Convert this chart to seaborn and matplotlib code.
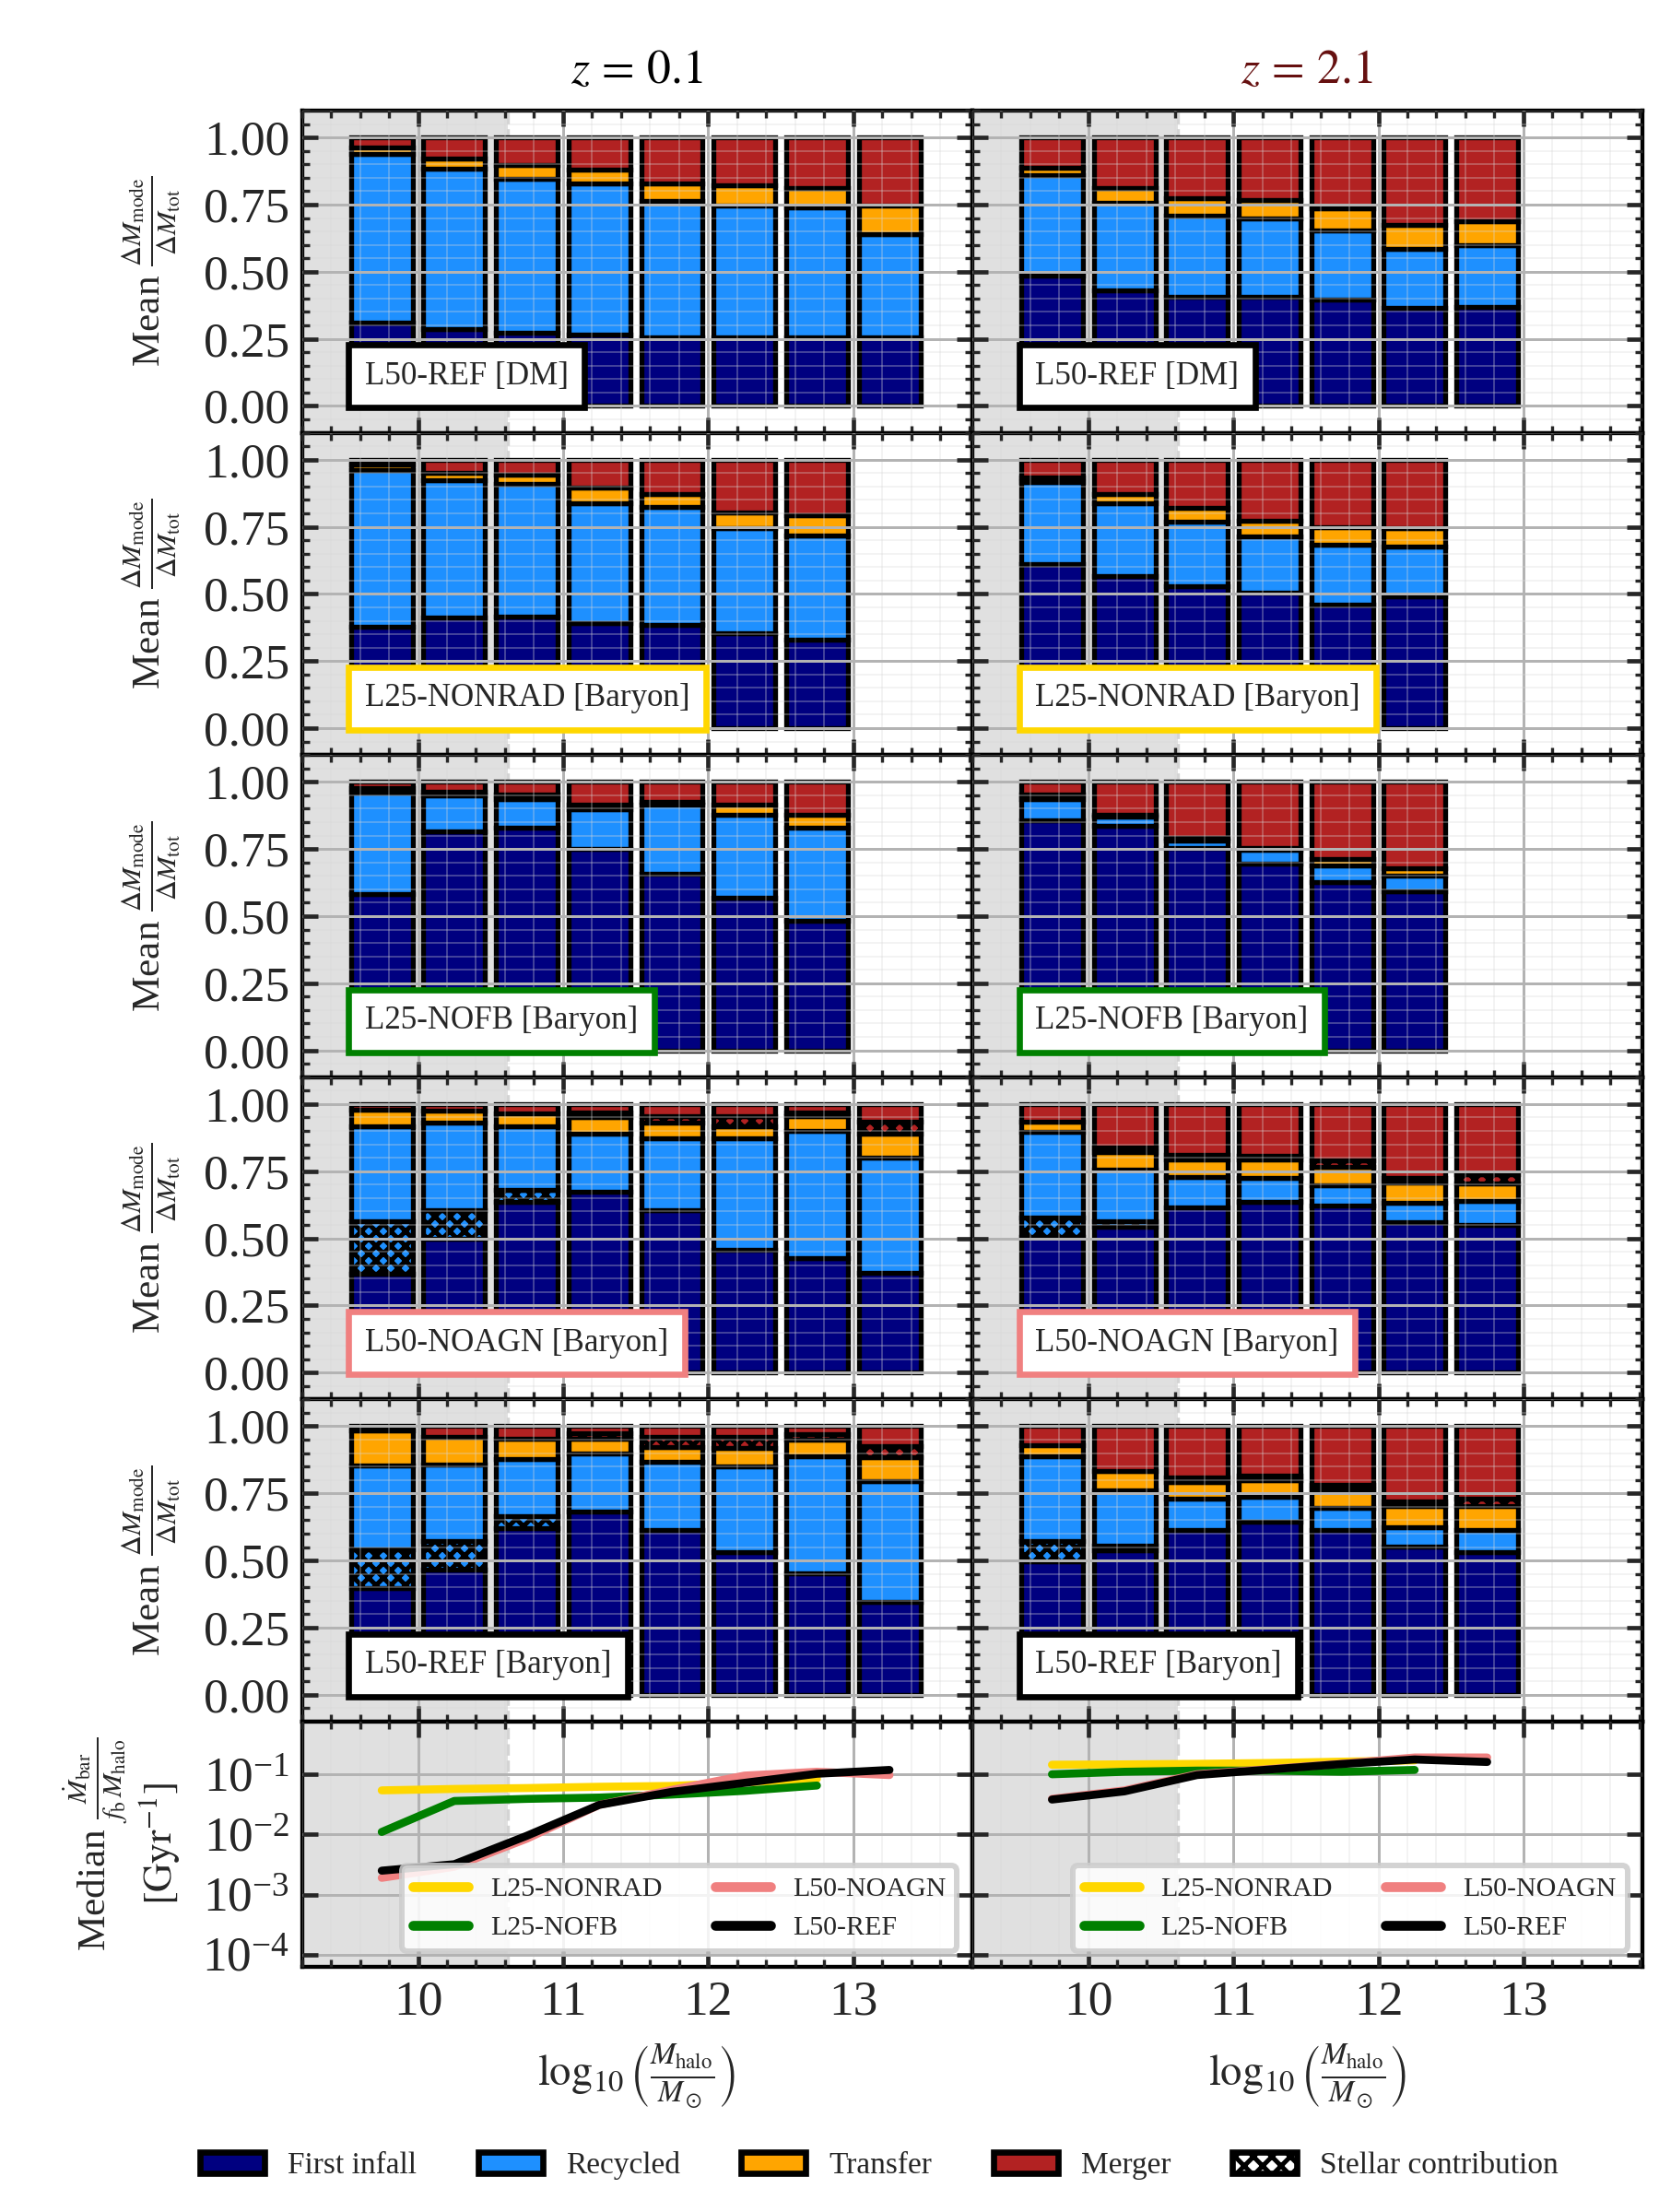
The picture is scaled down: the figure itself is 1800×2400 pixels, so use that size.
import numpy as np
import pandas as pd
import matplotlib
matplotlib.use("Agg")
import matplotlib.pyplot as plt
from matplotlib.patches import Patch
from matplotlib.lines import Line2D
from matplotlib.ticker import MultipleLocator, NullLocator, FormatStrFormatter
import seaborn as sns

# log10(M_halo / M_sun) bin centres
mass_bins = [9.75, 10.25, 10.75, 11.25, 11.75, 12.25, 12.75, 13.25]

# mean fractions per bin, rows: first infall, stellar (recycled), recycled,
# transfer, stellar (merger), merger
ref_dm_z01 = [
    [0.310, 0.287, 0.272, 0.266, 0.255, 0.254, 0.254, 0.254],
    [0, 0, 0, 0, 0, 0, 0, 0],
    [0.629, 0.597, 0.574, 0.564, 0.508, 0.492, 0.486, 0.385],
    [0.023, 0.037, 0.050, 0.052, 0.067, 0.075, 0.073, 0.107],
    [0, 0, 0, 0, 0, 0, 0, 0],
    [0.038, 0.079, 0.104, 0.118, 0.170, 0.179, 0.187, 0.254],
]
ref_dm_z21 = [
    [0.484, 0.429, 0.408, 0.408, 0.397, 0.364, 0.369],
    [0, 0, 0, 0, 0, 0, 0],
    [0.377, 0.328, 0.301, 0.290, 0.256, 0.220, 0.229],
    [0.026, 0.056, 0.064, 0.068, 0.083, 0.090, 0.090],
    [0, 0, 0, 0, 0, 0, 0],
    [0.113, 0.187, 0.227, 0.234, 0.264, 0.326, 0.312],
]
nonrad_z01 = [
    [0.379, 0.413, 0.416, 0.390, 0.385, 0.353, 0.331],
    [0, 0, 0, 0, 0, 0, 0],
    [0.582, 0.511, 0.494, 0.449, 0.440, 0.392, 0.386],
    [0.022, 0.028, 0.034, 0.057, 0.048, 0.057, 0.076],
    [0, 0, 0, 0, 0, 0, 0],
    [0.017, 0.048, 0.056, 0.104, 0.127, 0.198, 0.207],
]
nonrad_z21 = [
    [0.611, 0.567, 0.529, 0.506, 0.460, 0.492],
    [0, 0, 0, 0, 0, 0],
    [0.304, 0.272, 0.240, 0.209, 0.223, 0.184],
    [0.018, 0.034, 0.050, 0.057, 0.065, 0.069],
    [0, 0, 0, 0, 0, 0],
    [0.067, 0.127, 0.181, 0.228, 0.252, 0.255],
]
nofb_z01 = [
    [0.582, 0.815, 0.830, 0.750, 0.659, 0.569, 0.482],
    [0, 0, 0, 0, 0, 0, 0],
    [0.378, 0.134, 0.106, 0.149, 0.255, 0.310, 0.347],
    [0.017, 0.014, 0.017, 0.015, 0.010, 0.035, 0.048],
    [0, 0, 0, 0, 0, 0, 0],
    [0.023, 0.037, 0.047, 0.086, 0.076, 0.086, 0.123],
]
nofb_z21 = [
    [0.858, 0.835, 0.754, 0.697, 0.628, 0.591],
    [0, 0, 0, 0, 0, 0],
    [0.078, 0.036, 0.028, 0.049, 0.059, 0.061],
    [0.017, 0.008, 0.008, 0.008, 0.027, 0.028],
    [0, 0, 0, 0, 0, 0],
    [0.047, 0.121, 0.210, 0.246, 0.286, 0.320],
]
noagn_z01 = [
    [0.367, 0.499, 0.635, 0.673, 0.605, 0.458, 0.427, 0.373],
    [0.195, 0.106, 0.045, 0, 0, 0, 0, 0],
    [0.356, 0.326, 0.236, 0.218, 0.267, 0.414, 0.474, 0.427],
    [0.062, 0.044, 0.050, 0.062, 0.058, 0.046, 0.055, 0.091],
    [0, 0, 0, 0.015, 0.026, 0.037, 0.014, 0.044],
    [0.020, 0.025, 0.034, 0.032, 0.044, 0.045, 0.030, 0.065],
]
noagn_z21 = [
    [0.506, 0.543, 0.614, 0.637, 0.621, 0.559, 0.549],
    [0.071, 0.019, 0, 0, 0, 0, 0],
    [0.321, 0.194, 0.113, 0.089, 0.078, 0.074, 0.091],
    [0.035, 0.066, 0.066, 0.067, 0.067, 0.074, 0.064],
    [0, 0.017, 0.018, 0.015, 0.025, 0.018, 0.035],
    [0.067, 0.161, 0.189, 0.192, 0.209, 0.275, 0.261],
]
ref_bar_z01 = [
    [0.399, 0.466, 0.620, 0.682, 0.614, 0.531, 0.454, 0.347],
    [0.144, 0.105, 0.045, 0, 0, 0, 0, 0],
    [0.312, 0.287, 0.214, 0.215, 0.254, 0.319, 0.435, 0.450],
    [0.128, 0.102, 0.076, 0.057, 0.053, 0.069, 0.062, 0.087],
    [0, 0, 0, 0.019, 0.039, 0.041, 0.020, 0.043],
    [0.017, 0.040, 0.045, 0.027, 0.040, 0.040, 0.029, 0.073],
]
ref_bar_z21 = [
    [0.497, 0.538, 0.614, 0.645, 0.614, 0.553, 0.532],
    [0.075, 0.019, 0, 0, 0, 0, 0],
    [0.316, 0.204, 0.115, 0.093, 0.082, 0.071, 0.080],
    [0.040, 0.071, 0.063, 0.060, 0.070, 0.078, 0.090],
    [0, 0, 0.017, 0.017, 0.017, 0.018, 0.029],
    [0.072, 0.168, 0.191, 0.185, 0.217, 0.280, 0.269],
]

# median specific baryonic accretion rate [Gyr^-1]
nonrad_rate_z01 = [0.054, 0.057, 0.059, 0.062, 0.064, 0.073, 0.084]
nofb_rate_z01 = [0.011, 0.036, 0.039, 0.041, 0.046, 0.053, 0.065]
noagn_rate_z01 = [0.0019, 0.0029, 0.0085, 0.031, 0.055, 0.095, 0.110, 0.097]
ref_rate_z01 = [0.0025, 0.0032, 0.0095, 0.031, 0.051, 0.072, 0.102, 0.118]
nonrad_rate_z21 = [0.144, 0.146, 0.149, 0.154, 0.162, 0.170]
nofb_rate_z21 = [0.100, 0.110, 0.115, 0.115, 0.110, 0.118]
noagn_rate_z21 = [0.039, 0.054, 0.100, 0.122, 0.150, 0.190, 0.190]
ref_rate_z21 = [0.038, 0.052, 0.097, 0.120, 0.148, 0.176, 0.160]

redshift_labels = [r"$z\,=\,0.1$", r"$z\,=\,2.1$"]
row_labels = ["L50-REF [DM]", "L25-NONRAD [Baryon]", "L25-NOFB [Baryon]",
              "L50-NOAGN [Baryon]", "L50-REF [Baryon]"]
row_colors = ["black", "gold", "green", "lightcoral", "black"]
mode_labels = ["First infall", "Recycled", "Transfer", "Merger", "Stellar contribution"]
sim_names = ["L25-NONRAD", "L25-NOFB", "L50-NOAGN", "L50-REF"]
sim_colors = ["gold", "green", "lightcoral", "black"]

panels = [
    [ref_dm_z01, ref_dm_z21],
    [nonrad_z01, nonrad_z21],
    [nofb_z01, nofb_z21],
    [noagn_z01, noagn_z21],
    [ref_bar_z01, ref_bar_z21],
]
rates = [
    [nonrad_rate_z01, nofb_rate_z01, noagn_rate_z01, ref_rate_z01],
    [nonrad_rate_z21, nofb_rate_z21, noagn_rate_z21, ref_rate_z21],
]

seg_colors = ["navy", "dodgerblue", "dodgerblue", "orange", "firebrick", "firebrick"]
seg_hatch = [None, "xxxxx", None, None, "xxxxx", None]

sns.set_style("ticks")
plt.rcParams.update({
    "font.family": ["Liberation Serif", "DejaVu Serif"],
    "mathtext.fontset": "stix",
    "font.size": 14,
    "xtick.direction": "in",
    "ytick.direction": "in",
    "xtick.top": True,
    "ytick.right": True,
    "xtick.major.size": 5,
    "ytick.major.size": 5,
    "xtick.minor.size": 2.5,
    "ytick.minor.size": 2.5,
    "xtick.major.width": 1.4,
    "ytick.major.width": 1.4,
    "xtick.minor.width": 1.0,
    "ytick.minor.width": 1.0,
    "xtick.labelsize": 16,
    "ytick.labelsize": 16,
    "xtick.major.pad": 4.5,
    "ytick.major.pad": 4.0,
    "axes.linewidth": 1.3,
    "axes.edgecolor": "black",
    "hatch.linewidth": 1.5,
})

fig, axes = plt.subplots(
    6, 2, figsize=(7.5, 10), dpi=240, sharex=True, sharey="row",
    gridspec_kw=dict(height_ratios=[1, 1, 1, 1, 1, 0.76], hspace=0, wspace=0,
                     left=0.182, right=0.99, top=0.950, bottom=0.111),
)

xmin, xmax = 9.2, 13.82
shade_edge = 10.62

for col in range(2):
    for row in range(6):
        ax = axes[row, col]
        ax.axvspan(xmin - 1, shade_edge, color="#e0e0e0", zorder=0, lw=0)
        ax.axvline(shade_edge, color="#d4d4d4", ls="--", lw=1.0, zorder=0.5)
        ax.set_axisbelow(False)
        ax.grid(which="major", color="#b3b3b3", lw=0.9, zorder=2.5)
        ax.grid(which="minor", color="#d8d8d8", lw=0.6, alpha=0.3, zorder=2.4)
        ax.xaxis.set_major_locator(MultipleLocator(1))
        ax.xaxis.set_minor_locator(MultipleLocator(0.2))

        if row < 5:
            data = panels[row][col]
            n = len(data[0])
            x = np.array(mass_bins[:n])
            bottom = np.zeros(n)
            for k in range(6):
                vals = np.array(data[k], dtype=float)
                keep = vals > 0
                if keep.any():
                    ax.bar(x[keep], vals[keep], width=0.425, bottom=bottom[keep],
                           color=seg_colors[k], edgecolor="black", linewidth=1.6,
                           hatch=seg_hatch[k], zorder=1)
                bottom += vals
            ax.text(0.094, 0.175, row_labels[row], transform=ax.transAxes,
                    fontsize=10.5, ha="left", va="center", zorder=5,
                    bbox=dict(boxstyle="square,pad=0.5", facecolor="white",
                              edgecolor=row_colors[row], linewidth=2.0))
            ax.set_ylim(-0.1, 1.1)
            ax.yaxis.set_major_locator(MultipleLocator(0.25))
            ax.yaxis.set_minor_locator(MultipleLocator(0.05))
            ax.yaxis.set_major_formatter(FormatStrFormatter("%.2f"))
            if col == 0:
                ax.set_ylabel(r"Mean $\frac{\Delta M_{\rm mode}}{\Delta M_{\rm tot}}$",
                              fontsize=13)
        else:
            frames = []
            for name, vals in zip(sim_names, rates[col]):
                frames.append(pd.DataFrame({
                    "mass": mass_bins[:len(vals)],
                    "rate": vals,
                    "sim": name,
                }))
            df = pd.concat(frames, ignore_index=True)
            sns.lineplot(data=df, x="mass", y="rate", hue="sim",
                         hue_order=sim_names, palette=sim_colors,
                         lw=2.6, legend=False, ax=ax, zorder=3)
            ax.set_yscale("log")
            ax.set_ylim(6.4e-5, 0.75)
            ax.set_yticks([1e-4, 1e-3, 1e-2, 1e-1])
            ax.yaxis.set_minor_locator(NullLocator())
            handles = [Line2D([], [], color=c, lw=3.2) for c in sim_colors]
            leg = ax.legend(handles, sim_names, loc="lower right", ncol=2,
                            fontsize=9, frameon=True, fancybox=True,
                            framealpha=0.85, edgecolor="#cccccc",
                            handlelength=2.0, columnspacing=1.9,
                            borderaxespad=0.55)
            leg.get_frame().set_linewidth(1.8)
            leg.set_zorder(6)
            ax.set_xlabel(r"$\log_{10}\left(\frac{M_{\rm halo}}{M_\odot}\right)$",
                          fontsize=14, labelpad=6)
            if col == 0:
                ax.set_ylabel("Median $\\frac{\\dot{M}_{\\rm bar}}{f_{\\rm b}\\,M_{\\rm halo}}$"
                              "\n$[{\\rm Gyr}^{-1}]$", fontsize=13)
            else:
                ax.set_ylabel("")

        ax.set_xlim(xmin, xmax)
        if col == 1:
            ax.tick_params(labelleft=False)
            ax.set_ylabel("")
        else:
            ax.yaxis.set_label_coords(-0.178, 0.5)
        ax.tick_params(which="both", top=True, right=True)

for col, (label, color) in enumerate(zip(redshift_labels, ["black", "#661010"])):
    pos = axes[0, col].get_position()
    fig.text((pos.x0 + pos.x1) / 2, 0.968, label, ha="center", va="center",
             fontsize=15.5, color=color)

legend_handles = [
    Patch(facecolor="navy", edgecolor="black", linewidth=2),
    Patch(facecolor="dodgerblue", edgecolor="black", linewidth=2),
    Patch(facecolor="orange", edgecolor="black", linewidth=2),
    Patch(facecolor="firebrick", edgecolor="black", linewidth=2),
    Patch(facecolor="white", edgecolor="black", linewidth=2, hatch="xxxx"),
]
fig.legend(legend_handles, mode_labels, loc="center", bbox_to_anchor=(0.53, 0.021),
           ncol=5, frameon=False, fontsize=10, handlelength=2.1,
           handletextpad=0.75, columnspacing=2.0)

fig.savefig("out.png", dpi=240)
